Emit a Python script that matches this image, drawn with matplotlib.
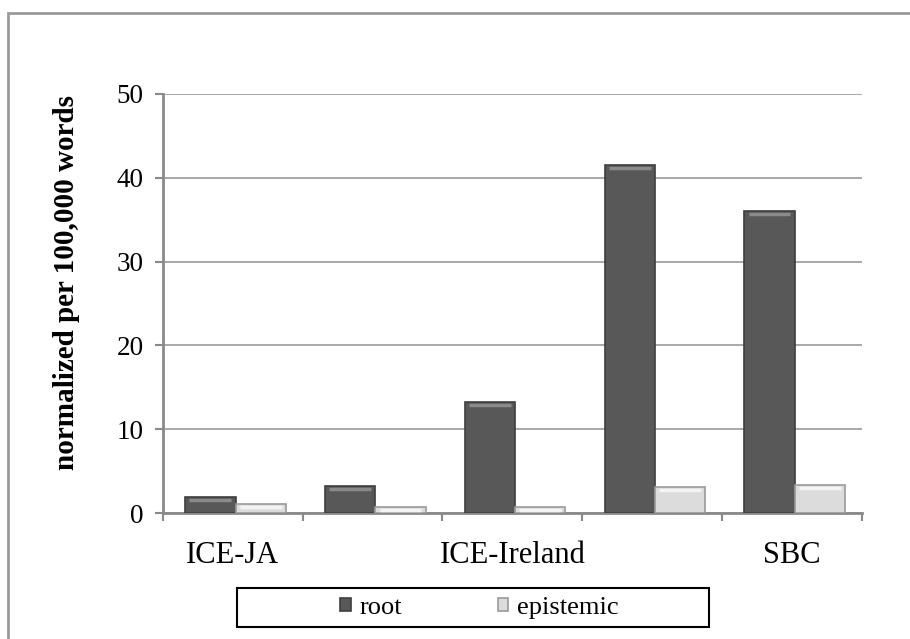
import numpy as np
import matplotlib
matplotlib.use("Agg")
import matplotlib.pyplot as plt
from matplotlib.patches import Rectangle

plt.rcParams['font.family'] = ['Liberation Serif', 'DejaVu Serif']

# corpora (only every other name is printed on the axis)
corpora = ["ICE-JA", "", "ICE-Ireland", "", "SBC"]
root = [1.9, 3.2, 13.2, 41.5, 36.0]
epistemic = [1.1, 0.7, 0.7, 3.1, 3.3]
series_names = ["root", "epistemic"]

fig = plt.figure(figsize=(9.1, 6.39), dpi=100)
ax = fig.add_axes([0.179, 0.197, 0.768, 0.656])

x = np.arange(1, len(corpora) + 1)
w = 0.36
off = 0.02
ax.bar(x - w / 2 + off, root, width=w, color="#585858", edgecolor="#3e3e3e",
       linewidth=1.2, zorder=3, label=series_names[0])
ax.bar(x + w / 2 + off, epistemic, width=w, color="#dcdcdc", edgecolor="#9a9a9a",
       linewidth=1.2, zorder=3, label=series_names[1])

# light bevel along the top of each bar
for xs, vals, c in [(x - w / 2 + off, root, "#8a8a8a"), (x + w / 2 + off, epistemic, "#f4f4f4")]:
    for xi, v in zip(xs, vals):
        ax.plot([xi - w / 2 + 0.03, xi + w / 2 - 0.03], [v - 0.35, v - 0.35],
                color=c, lw=2.5, zorder=4, solid_capstyle="butt")

ax.set_xlim(0.5, len(corpora) + 0.5)
ax.set_ylim(0, 50)
ax.set_yticks(np.arange(0, 51, 10))
ax.yaxis.grid(True, color="#9a9a9a", lw=1.2, zorder=0)

# category boundaries as ticks, names centred under groups
ax.set_xticks(np.arange(0.5, len(corpora) + 1, 1))
ax.set_xticklabels([])
ax.set_xticks(x, minor=True)
ax.set_xticklabels(corpora, minor=True, fontsize=22)
ax.tick_params(axis="x", which="minor", length=0, pad=20)
ax.tick_params(axis="x", which="major", length=6, width=1.5, color="#8a8a8a")
ax.tick_params(axis="y", length=6, width=1.5, color="#8a8a8a", labelsize=19.5, pad=8)

for s in ["top", "right"]:
    ax.spines[s].set_visible(False)
for s in ["left", "bottom"]:
    ax.spines[s].set_color("#8a8a8a")
    ax.spines[s].set_linewidth(2)

ax.set_ylabel("normalized per 100,000 words", fontsize=21, fontweight="bold")
ax.yaxis.set_label_coords(-0.118, 0.551)

leg = fig.legend(loc="center", bbox_to_anchor=(0.527, 0.049), ncol=2, frameon=False,
                 fontsize=19, handlelength=0.4, handleheight=0.4, handletextpad=0.35,
                 columnspacing=3.6)

# legend frame
fig.patches.append(Rectangle((237 / 910, 1 - 627 / 639), 472 / 910, 39 / 639,
                             transform=fig.transFigure, fill=False,
                             edgecolor="black", lw=1.5))
# outer chart border
fig.patches.append(Rectangle((8 / 910, -0.2), 1.2, 0.2 + (1 - 13 / 639),
                             transform=fig.transFigure, fill=False,
                             edgecolor="#9a9a9a", lw=2))

fig.savefig("out.png", dpi=100)
